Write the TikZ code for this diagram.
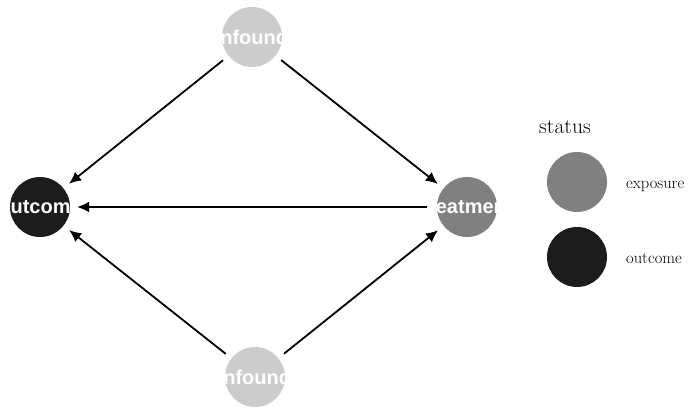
\documentclass[tikz,border=0pt]{standalone}
\usepackage{fontspec}
\newfontfamily\lblfont{Liberation Sans}
\usetikzlibrary{arrows.meta}
\definecolor{confcol}{HTML}{CCCCCC}
\definecolor{expcol}{HTML}{808080}
\definecolor{outcol}{HTML}{1C1C1C}
\tikzset{
  dagnode/.style={circle, minimum size=60pt, inner sep=0pt, draw=none, fill=#1},
  namedvar/.style={path picture={\node[text=white, font=\lblfont\bfseries\fontsize{20}{24}\selectfont]
      at (path picture bounding box.center) {#1};}},
  legdot/.style={circle, minimum size=60pt, inner sep=0pt, fill=#1},
  edge/.style={line width=1.8pt, -{Latex[length=12pt,width=11pt]}, shorten <=7pt, shorten >=7pt},
  legtext/.style={anchor=base west, inner sep=0pt, font=\fontsize{16.5}{19}\selectfont},
}
\begin{document}
\begin{tikzpicture}[x=1pt, y=-1pt]
  \useasboundingbox (0,0) rectangle (688,407);
  % DAG nodes
  \node[dagnode=confcol, namedvar=confounder] (ctop) at (252,37) {};
  \node[dagnode=confcol, namedvar=confounder] (cbot) at (255,377) {};
  \node[dagnode=outcol, namedvar=outcome] (out) at (40,207) {};
  \node[dagnode=expcol, namedvar=treatment] (trt) at (467,207) {};
  % edges
  \draw[edge] (ctop) -- (out);
  \draw[edge] (ctop) -- (trt);
  \draw[edge, shorten <=10pt] (trt) -- (out);
  \draw[edge] (cbot) -- (out);
  \draw[edge] (cbot) -- (trt);
  % legend
  \node[anchor=base west, font=\fontsize{21.5}{25}\selectfont, inner sep=0pt] (legtitle) at (539,133) {status};
  \node[legdot=expcol] (legexp) at (577,182) {};
  \node[legdot=outcol] (legout) at (577,257) {};
  \node[legtext] (legexplbl) at (626,188) {exposure};
  \node[legtext] (legoutlbl) at (626,263) {outcome};
\end{tikzpicture}
\end{document}
